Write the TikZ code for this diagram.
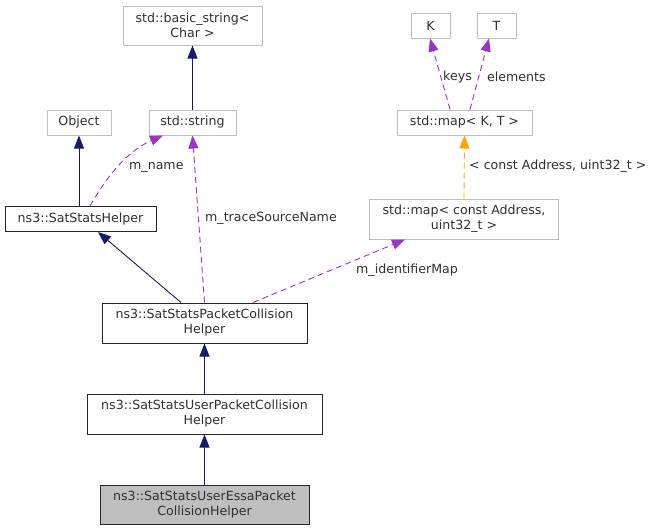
\documentclass[tikz,border=0pt]{standalone}
\usepackage{fontspec}
\setmainfont{DejaVu Sans}
\usetikzlibrary{arrows.meta,calc}
\definecolor{navy}{HTML}{191970}
\definecolor{orch}{HTML}{9A32CD}
\definecolor{orng}{HTML}{FFA500}
\definecolor{lgrey}{HTML}{BFBFBF}
\definecolor{txt}{HTML}{303030}
\begin{document}
\begin{tikzpicture}[x=1pt,y=-1pt,
  every node/.style={font=\fontsize{12.6}{15}\selectfont, text=txt},
  cbox/.style={draw=lgrey, line width=1pt, fill=white, inner sep=0pt, align=center},
  dbox/.style={draw=black!85, line width=1pt, fill=white, inner sep=0pt, align=center},
  hbox/.style={draw=black!85, line width=1pt, fill=lgrey, inner sep=0pt, align=center},
  inh/.style={draw=navy, line width=0.9pt, -{Triangle[length=13pt,width=10pt]}},
  usage/.style={draw=orch, line width=0.9pt, dash pattern=on 6pt off 4pt, -{Triangle[length=13pt,width=10pt]}},
  tmpl/.style={draw=orng, line width=0.9pt, dash pattern=on 6pt off 4pt, -{Triangle[length=13pt,width=10pt]}},
  lbl/.style={inner sep=0pt, anchor=west}
]
\useasboundingbox[fill=white] (0,0) rectangle (657,531);

\node[cbox, minimum width=139pt, minimum height=39pt] (bs) at (192.5,25.5) {std::basic\_string<\\Char >};
\node[cbox, minimum width=64pt, minimum height=25pt] (obj) at (79,122.5) {Object};
\node[cbox, minimum width=87pt, minimum height=25pt] (str) at (192.5,122.5) {std::string};
\node[cbox, minimum width=39pt, minimum height=25pt] (K) at (430.5,25.5) {K};
\node[cbox, minimum width=39pt, minimum height=25pt] (T) at (496.5,25.5) {T};
\node[cbox, minimum width=135pt, minimum height=25pt] (mapKT) at (464.5,122.5) {std::map< K, T >};
\node[cbox, minimum width=189pt, minimum height=40pt] (mapCA) at (464,219) {std::map< const Address,\\uint32\_t >};
\node[dbox, minimum width=151pt, minimum height=25pt] (ssh) at (80.5,219) {ns3::SatStatsHelper};
\node[dbox, minimum width=205pt, minimum height=40pt] (spc) at (204.5,323) {ns3::SatStatsPacketCollision\\Helper};
\node[dbox, minimum width=235pt, minimum height=40pt] (supc) at (204.5,414) {ns3::SatStatsUserPacketCollision\\Helper};
\node[hbox, minimum width=209pt, minimum height=39pt] (essa) at (204.5,504.5) {ns3::SatStatsUserEssaPacket\\CollisionHelper};

% inheritance
\draw[inh] (str.north) -- (bs.south);
\draw[inh] (obj.south |- ssh.north) -- (obj.south);
\draw[inh] ($(spc.north)+(-23.5,0)$) -- ($(ssh.south)+(17.5,0)$);
\draw[inh] (supc.north) -- (spc.south);
\draw[inh] (essa.north) -- (supc.south);

% usage
\draw[usage] ($(ssh.north)+(9.5,0)$) .. controls (105,180) and (125,152) .. ($(str.south)+(-29.5,0)$);
\node[lbl] (lname) at (129,167) {m\_name};
\draw[usage] (spc.north) -- (str.south);
\node[lbl] (ltrace) at (205,218) {m\_traceSourceName};
\draw[usage] ($(spc.north)+(48.5,0)$) -- ($(mapCA.south)+(-59,0)$);
\node[lbl] (lident) at (356,270) {m\_identifierMap};
\draw[tmpl] (mapCA.north) -- (mapKT.south);
\node[lbl] (ltmpl) at (469,166) {< const Address, uint32\_t >};
\draw[usage] ($(mapKT.north)+(-14.5,0)$) -- ($(K.south)+(-0.5,0)$);
\node[lbl] (lkeys) at (443,77) {keys};
\draw[usage] ($(mapKT.north)+(5.5,0)$) -- ($(T.south)+(-7.5,0)$);
\node[lbl] (lelem) at (487,77) {elements};
\end{tikzpicture}
\end{document}
